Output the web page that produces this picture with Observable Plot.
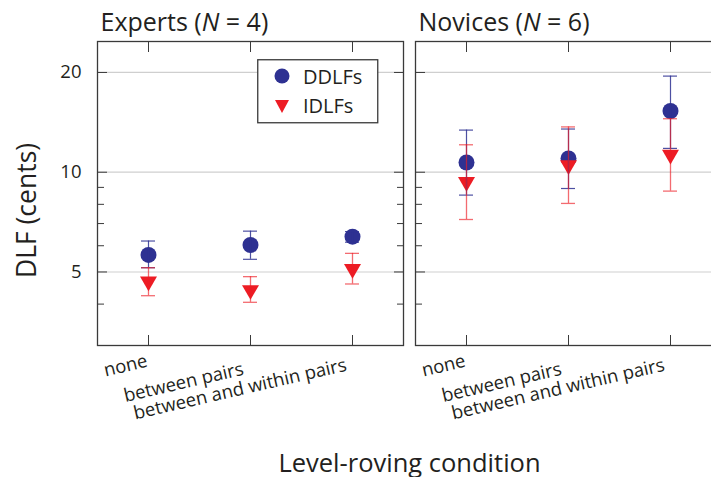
<!DOCTYPE html>
<html><head><meta charset="utf-8">
<script src="https://cdn.jsdelivr.net/npm/d3@7"></script>
<script src="https://cdn.jsdelivr.net/npm/@observablehq/plot@0.6"></script>
<style>
body{margin:0;background:#fff;overflow:hidden}
#wrap{position:relative;width:711px;height:477px;overflow:hidden;background:#fff}
#wrap > svg{max-width:none !important;display:block}
#legend{position:absolute;left:257px;top:59px}
</style></head><body><div id="wrap"></div>
<script>
// ---- data ----
const panels = ["Experts", "Novices"];
const groupSizes = [4, 6];
const conditions = ["none", "between pairs", "between and within pairs"];
const measures = ["DDLFs", "IDLFs"];

const expertsDDLF     = [5.63, 6.03, 6.39];
const expertsDDLFLow  = [5.15, 5.46, 6.15];
const expertsDDLFHigh = [6.20, 6.64, 6.62];
const expertsIDLF     = [4.68, 4.41, 5.11];
const expertsIDLFLow  = [4.24, 4.05, 4.60];
const expertsIDLFHigh = [5.15, 4.84, 5.69];

const novicesDDLF     = [10.7, 11.0, 15.3];
const novicesDDLFLow  = [8.53, 8.93, 11.8];
const novicesDDLFHigh = [13.4, 13.5, 19.5];
const novicesIDLF     = [9.35, 10.5, 11.3];
const novicesIDLFLow  = [7.20, 8.05, 8.77];
const novicesIDLFHigh = [12.1, 13.7, 14.5];

const yTicksMajor = [5, 10, 20];
const yTicksMinor = [4, 6, 7, 8, 9];

// ---- build tables ----
function rows(panel, vals, lo, hi, measure) {
  return conditions.map((c, i) => ({panel, condition: c, measure, value: vals[i], low: lo[i], high: hi[i]}));
}
const ddlf = [
  ...rows("Experts", expertsDDLF, expertsDDLFLow, expertsDDLFHigh, "DDLFs"),
  ...rows("Novices", novicesDDLF, novicesDDLFLow, novicesDDLFHigh, "DDLFs")
];
const idlf = [
  ...rows("Experts", expertsIDLF, expertsIDLFLow, expertsIDLFHigh, "IDLFs"),
  ...rows("Novices", novicesIDLF, novicesIDLFLow, novicesIDLFHigh, "IDLFs")
];
const titles = panels.map((p, i) => ({panel: p, label: `${p} (N = ${groupSizes[i]})`}));

const BLUE = "#2E3192", RED = "#ED1C24", INK = "#231F20", FRAME = "#3a3a3a";
const FONT = "'Open Sans', sans-serif";

const labelOffsets = [
  {dx: 0, pad: 21},
  {dx: -6, pad: 29},
  {dx: -5, pad: 25}
];

const chart = Plot.plot({
  width: 721,
  height: 477,
  marginLeft: 97,
  marginRight: 0,
  marginTop: 41,
  marginBottom: 132,
  style: {fontFamily: FONT, background: "white", color: INK, maxWidth: "none"},
  fx: {domain: panels, paddingInner: 12 / 318, paddingOuter: 0, axis: null, label: null},
  x: {type: "band", domain: conditions, padding: 0, axis: null},
  y: {type: "log", domain: [3.0, 24.8], axis: null},
  marks: [
    Plot.ruleY(yTicksMajor, {stroke: "#cfcfcf", strokeWidth: 1.2}),
    Plot.frame({stroke: FRAME, strokeWidth: 1.3}),
    // inward ticks, every panel, both sides
    Plot.axisY(yTicksMajor, {anchor: "left", tickSize: 10, dx: 10, fill: "none", stroke: FRAME, facetAnchor: null, label: null}),
    Plot.axisY(yTicksMinor, {anchor: "left", tickSize: 7, dx: 7, fill: "none", stroke: FRAME, facetAnchor: null, label: null}),
    Plot.axisY(yTicksMajor, {anchor: "right", tickSize: 10, dx: -10, fill: "none", stroke: FRAME, facetAnchor: null, label: null}),
    Plot.axisY(yTicksMinor, {anchor: "right", tickSize: 7, dx: -7, fill: "none", stroke: FRAME, facetAnchor: null, label: null}),
    Plot.axisX({anchor: "bottom", tickSize: 10, dy: -10, fill: "none", stroke: FRAME, facetAnchor: null, label: null}),
    Plot.axisX({anchor: "top", tickSize: 10, dy: 10, fill: "none", stroke: FRAME, facetAnchor: null, label: null}),
    // y tick labels (left panel only)
    Plot.axisY(yTicksMajor, {anchor: "left", tickSize: 0, tickPadding: 16, stroke: "none", fill: INK, fontSize: 18.5, label: null, tickFormat: d => String(d)}),
    // rotated category labels
    ...conditions.map((c, i) => Plot.axisX([c], {
      anchor: "bottom", tickSize: 0, tickPadding: labelOffsets[i].pad, dx: labelOffsets[i].dx,
      tickRotate: -13, textAnchor: "end", lineAnchor: "bottom",
      stroke: "none", fill: INK, fontSize: 18.5, facetAnchor: null, label: null
    })),
    // data markers
    Plot.dot(ddlf, {fx: "panel", x: "condition", y: "value", r: 8, fill: BLUE, symbol: "circle"}),
    Plot.dot(idlf, {fx: "panel", x: "condition", y: "value", r: 6.3, fill: RED, symbol: "triangle", rotate: 180}),
    // error bars
    Plot.ruleX(ddlf, {fx: "panel", x: "condition", y1: "low", y2: "high", stroke: BLUE, strokeWidth: 1.2, strokeOpacity: 0.85}),
    Plot.tickY(ddlf, {fx: "panel", x: "condition", y: "low", stroke: BLUE, strokeWidth: 1.2, strokeOpacity: 0.85, insetLeft: 44, insetRight: 44}),
    Plot.tickY(ddlf, {fx: "panel", x: "condition", y: "high", stroke: BLUE, strokeWidth: 1.2, strokeOpacity: 0.85, insetLeft: 44, insetRight: 44}),
    Plot.ruleX(idlf, {fx: "panel", x: "condition", y1: "low", y2: "high", stroke: RED, strokeWidth: 1.3, strokeOpacity: 0.65}),
    Plot.tickY(idlf, {fx: "panel", x: "condition", y: "low", stroke: RED, strokeWidth: 1.3, strokeOpacity: 0.65, insetLeft: 44, insetRight: 44}),
    Plot.tickY(idlf, {fx: "panel", x: "condition", y: "high", stroke: RED, strokeWidth: 1.3, strokeOpacity: 0.65, insetLeft: 44, insetRight: 44}),
    // panel titles
    Plot.text(titles, {fx: "panel", text: "label", frameAnchor: "top-left", textAnchor: "start", lineAnchor: "bottom", dx: 3, dy: -11, fontSize: 25, fill: INK}),
    // axis titles
    Plot.text(["DLF (cents)"], {facet: "super", frameAnchor: "left", rotate: -90, textAnchor: "middle", lineAnchor: "bottom", dx: -62, dy: 17, fontSize: 26.5, fill: INK}),
    Plot.text(["Level-roving condition"], {facet: "super", frameAnchor: "bottom", textAnchor: "middle", lineAnchor: "bottom", dy: 126, fontSize: 25.5, fill: INK})
  ]
});

// italic N in panel titles
chart.querySelectorAll("text").forEach(t => {
  const s = t.textContent;
  const m = s.match(/^(.*\()N( = .*)$/);
  if (m && t.children.length === 0) {
    t.textContent = "";
    const ns = "http://www.w3.org/2000/svg";
    const a = document.createElementNS(ns, "tspan"); a.textContent = m[1];
    const b = document.createElementNS(ns, "tspan"); b.textContent = "N"; b.setAttribute("font-style", "italic");
    const c = document.createElementNS(ns, "tspan"); c.textContent = m[2];
    t.append(a, b, c);
  }
});

// the right panel runs past the page edge in the reference: crop the view, no rescaling
chart.setAttribute("width", 711);
chart.setAttribute("viewBox", "0 0 711 477");

const wrap = document.getElementById("wrap");
wrap.appendChild(chart);

// legend box
const leg = document.createElement("div");
leg.id = "legend";
const items = measures.map((m, i) => {
  const y = 17 + i * 29;
  const sym = i === 0
    ? `<circle cx="25" cy="${y}" r="7.5" fill="${BLUE}"/>`
    : `<path d="M18,${y - 5} L32,${y - 5} L25,${y + 8} Z" fill="${RED}"/>`;
  return `${sym}<text x="46" y="${y + 8}" font-size="20" fill="${INK}">${m}</text>`;
}).join("");
leg.innerHTML = `<svg width="122" height="66" style="font-family:${FONT}"><rect x="0.75" y="0.75" width="120" height="63" fill="white" stroke="${FRAME}" stroke-width="1.3"/>${items}</svg>`;
wrap.appendChild(leg);
</script></body></html>
